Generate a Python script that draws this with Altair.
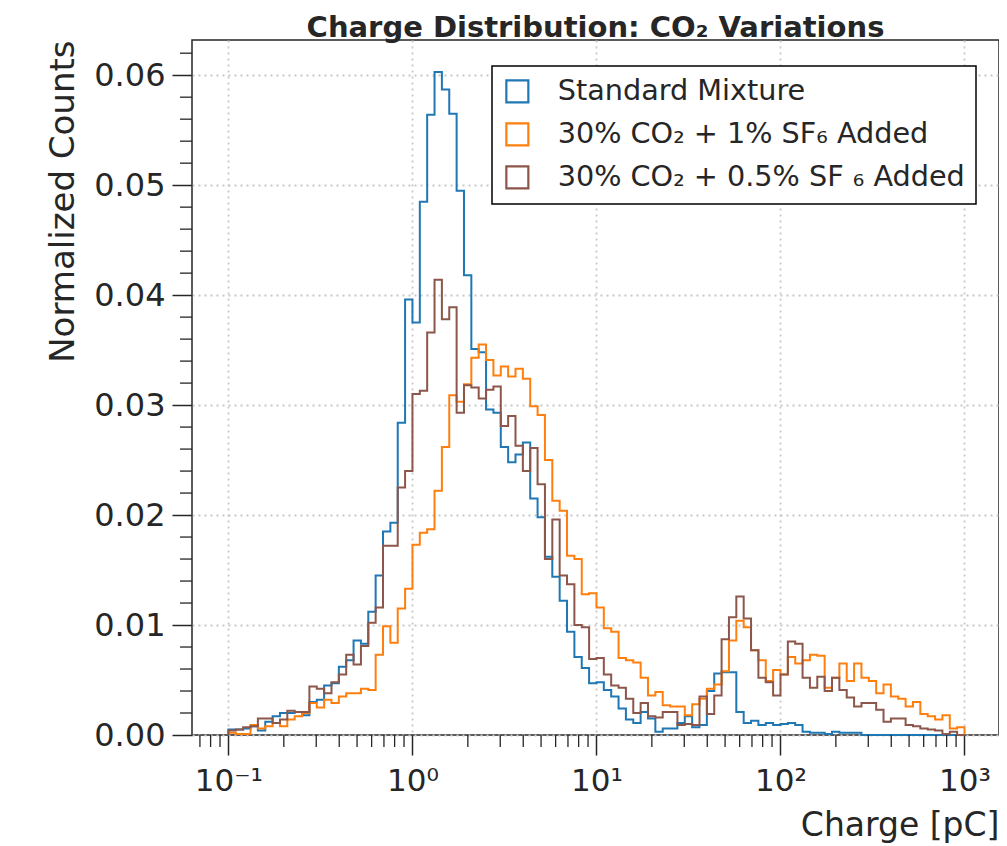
import altair as alt
import numpy as np
import pandas as pd

# ---------------- data ----------------
SERIES = ["Standard Mixture", "30% CO₂ + 1% SF₆ Added", "30% CO₂ + 0.5% SF ₆ Added"]
COLORS = ["#1f77b4", "#ff7f0e", "#8c564b"]
N_BINS = 100
LOG_MIN, LOG_MAX = -1, 3

standard = [
    0.0005, 0.0005, 0.0006, 0.0008, 0.0004, 0.0012, 0.0017, 0.0020, 0.0020, 0.0021,
    0.0018, 0.0030, 0.0032, 0.0045, 0.0047, 0.0062, 0.0068, 0.0086, 0.0083, 0.0112,
    0.0145, 0.0185, 0.0193, 0.0284, 0.0396, 0.0375, 0.0485, 0.0564, 0.0603, 0.0587,
    0.0565, 0.0495, 0.0418, 0.0351, 0.0348, 0.0296, 0.0293, 0.0262, 0.0248, 0.0255,
    0.0266, 0.0215, 0.0198, 0.0162, 0.0144, 0.0122, 0.0094, 0.0071, 0.0061, 0.0047,
    0.0048, 0.0041, 0.0035, 0.0024, 0.0014, 0.0011, 0.0021, 0.0015, 0.0003, 0.0006,
    0.0006, 0.0011, 0.0017, 0.0007, 0.0009, 0.0040, 0.0056, 0.0057, 0.0057, 0.0021,
    0.0011, 0.0013, 0.0009, 0.0011, 0.0009, 0.0010, 0.0011, 0.0009, 0.0003, 0.0002,
    0.0002, 0.0001, 0.0003, 0.0002, 0.0002, 0.0002, 0.0, 0.0, 0.0, 0.0,
    0.0, 0.0, 0.0, 0.0, 0.0, 0.0, 0.0, 0.0, 0.0, 0.0,
]
co2_sf6_1 = [
    0.0002, 0.0001, 0.0001, 0.0009, 0.0006, 0.0008, 0.0011, 0.0008, 0.0014, 0.0017,
    0.0020, 0.0029, 0.0025, 0.0032, 0.0029, 0.0035, 0.0038, 0.0038, 0.0042, 0.0041,
    0.0073, 0.0099, 0.0084, 0.0115, 0.0133, 0.0173, 0.0184, 0.0187, 0.0222, 0.0262,
    0.0309, 0.0303, 0.0319, 0.0343, 0.0355, 0.0341, 0.0327, 0.0335, 0.0326, 0.0333,
    0.0324, 0.0299, 0.0291, 0.0250, 0.0213, 0.0204, 0.0163, 0.0160, 0.0128, 0.0129,
    0.0116, 0.0097, 0.0094, 0.0070, 0.0068, 0.0066, 0.0052, 0.0036, 0.0039, 0.0027,
    0.0026, 0.0026, 0.0018, 0.0028, 0.0033, 0.0042, 0.0046, 0.0058, 0.0086, 0.0104,
    0.0098, 0.0077, 0.0068, 0.0049, 0.0059, 0.0055, 0.0071, 0.0065, 0.0068, 0.0073,
    0.0072, 0.0043, 0.0052, 0.0065, 0.0049, 0.0065, 0.0052, 0.0049, 0.0038, 0.0046,
    0.0035, 0.0033, 0.0026, 0.0030, 0.0019, 0.0017, 0.0014, 0.0018, 0.0006, 0.0007,
]
co2_sf6_05 = [
    0.0004, 0.0005, 0.0007, 0.0008, 0.0015, 0.0015, 0.0011, 0.0014, 0.0022, 0.0021,
    0.0021, 0.0044, 0.0042, 0.0038, 0.0048, 0.0055, 0.0073, 0.0064, 0.0081, 0.0102,
    0.0116, 0.0172, 0.0172, 0.0225, 0.0240, 0.0310, 0.0313, 0.0366, 0.0414, 0.0378,
    0.0389, 0.0293, 0.0318, 0.0316, 0.0306, 0.0314, 0.0317, 0.0281, 0.0290, 0.0263,
    0.0240, 0.0261, 0.0228, 0.0160, 0.0196, 0.0145, 0.0137, 0.0100, 0.0098, 0.0069,
    0.0070, 0.0055, 0.0045, 0.0043, 0.0033, 0.0020, 0.0029, 0.0017, 0.0016, 0.0021,
    0.0021, 0.0009, 0.0010, 0.0009, 0.0035, 0.0019, 0.0036, 0.0087, 0.0107, 0.0126,
    0.0106, 0.0077, 0.0052, 0.0048, 0.0036, 0.0055, 0.0085, 0.0083, 0.0052, 0.0043,
    0.0053, 0.0040, 0.0052, 0.0041, 0.0034, 0.0026, 0.0029, 0.0029, 0.0023, 0.0012,
    0.0015, 0.0015, 0.0009, 0.0008, 0.0006, 0.0005, 0.0004, 0.0001, 0.0003, 0.0000,
]

X_MAJOR = [0.1, 1, 10, 100, 1000]
X_MINOR = [0.07, 0.08, 0.09] + [m * 10.0 ** d for d in range(-1, 3) for m in range(2, 10)]
Y_MAJOR = [0.0, 0.01, 0.02, 0.03, 0.04, 0.05, 0.06]
Y_MINOR = [round(0.002 * i, 3) for i in range(1, 32) if i % 5 != 0]

TITLE = "Charge Distribution: CO₂ Variations"
X_TITLE = "Charge [pC]"
Y_TITLE = "Normalized Counts"

# ---------------- tables ----------------
edges = np.logspace(LOG_MIN, LOG_MAX, N_BINS + 1)


def step_table(name, vals):
    rows = [dict(series=name, order=0, x=edges[0], y=0.0)]
    for k, v in enumerate(vals):
        rows.append(dict(series=name, order=k + 1, x=edges[k], y=v))
    rows.append(dict(series=name, order=N_BINS + 1, x=edges[-1], y=0.0))
    return pd.DataFrame(rows)


W, H = 807, 695
FONT = "DejaVu Sans"
INK = "#262626"

x_scale = alt.Scale(type="log", domain=[10 ** -1.198, 10 ** 3.1875], nice=False)
y_scale = alt.Scale(domain=[0, 0.0632], nice=False, zero=True)

x_axis = alt.Axis(
    values=X_MAJOR,
    labelExpr="['10⁻¹','10⁰','10¹','10²','10³'][round(log(datum.value)/LN10)+1]",
    title=X_TITLE,
    titleFontSize=33, titleFontWeight="normal", titleColor=INK, titleFont=FONT,
    titleAnchor="end", titleAlign="right", titleBaseline="alphabetic",
    titleX=W, titleY=100,
    tickSize=20, tickWidth=1.5, tickColor=INK,
    labelFontSize=31, labelFont=FONT, labelColor=INK, labelPadding=11,
    labelFlush=False, labelOverlap=False,
    grid=True, gridDash=[2, 4], gridColor="#c8c8c8", gridWidth=1.8,
    domain=False,
)
y_axis = alt.Axis(
    values=Y_MAJOR, format=".2f",
    title=Y_TITLE,
    titleFontSize=34, titleFontWeight="normal", titleColor=INK, titleFont=FONT,
    titleAnchor="end", titleAlign="right", titleBaseline="alphabetic",
    titleAngle=270, titleX=-119, titleY=0,
    tickSize=20, tickWidth=1.5, tickColor=INK,
    labelFontSize=32, labelFont=FONT, labelColor=INK, labelPadding=7,
    labelFlush=False, labelOverlap=False,
    grid=True, gridDash=[2, 4], gridColor="#c8c8c8", gridWidth=1.8,
    domain=False,
)

color_scale = alt.Scale(domain=SERIES, range=COLORS)
legend = alt.Legend(
    title=None, orient="none", legendX=300, legendY=26,
    symbolType="square", symbolSize=484, symbolStrokeWidth=2.2,
    labelFontSize=28.7, labelFont=FONT, labelColor=INK, labelOffset=26, labelLimit=0,
    rowPadding=11, padding=11, strokeColor="black", fillColor="white", cornerRadius=0,
)

layers = []
for name, vals in zip(SERIES, [standard, co2_sf6_1, co2_sf6_05]):
    layers.append(
        alt.Chart(step_table(name, vals))
        .mark_line(interpolate="step-after", strokeWidth=2, strokeJoin="miter")
        .encode(
            x=alt.X("x:Q", scale=x_scale, axis=x_axis),
            y=alt.Y("y:Q", scale=y_scale, axis=y_axis),
            color=alt.Color("series:N", scale=color_scale, legend=legend),
            order=alt.Order("order:Q"),
        )
    )

minor_x = (
    alt.Chart(pd.DataFrame({"x": X_MINOR}))
    .mark_rule(color=INK, strokeWidth=1.3)
    .encode(x=alt.X("x:Q", scale=x_scale, axis=x_axis), y=alt.value(H), y2=alt.value(H + 12))
)
minor_y = (
    alt.Chart(pd.DataFrame({"y": Y_MINOR}))
    .mark_rule(color=INK, strokeWidth=1.3)
    .encode(y=alt.Y("y:Q", scale=y_scale, axis=y_axis), x=alt.value(0), x2=alt.value(-12))
)

# chart title, drawn as a text mark just above the frame
title_mark = (
    alt.Chart(pd.DataFrame({"t": [TITLE]}))
    .mark_text(fontSize=29, fontWeight="bold", font=FONT, color=INK,
               align="center", baseline="alphabetic")
    .encode(text=alt.Text("t:N"), x=alt.value(W / 2), y=alt.value(-3))
)

chart = (
    alt.layer(*layers, minor_x, minor_y, title_mark)
    .properties(
        width=W, height=H,
        padding={"left": 184, "top": 32, "right": 0, "bottom": 115},
        autosize=alt.AutoSizeParams(type="none"),
    )
    .configure_view(stroke=INK, strokeWidth=1.5)
    .configure_legend(strokeWidth=1.5)
)

chart.save("out.html", embed_options={"renderer": "svg", "actions": False})
